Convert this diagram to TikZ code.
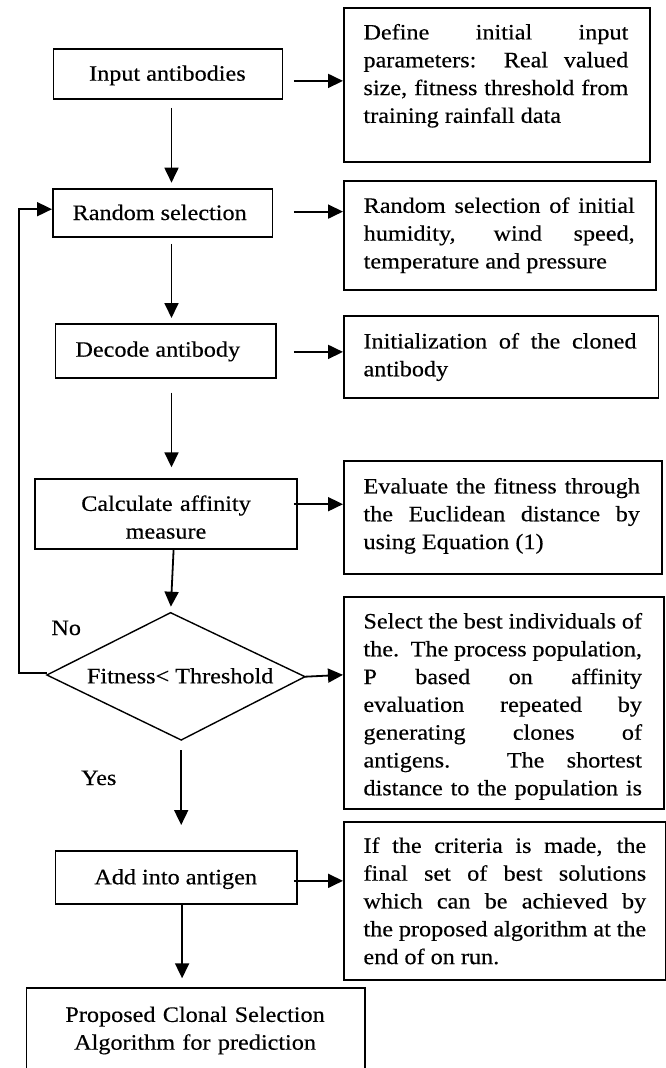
\documentclass[tikz,border=0pt]{standalone}
\usepackage{fontspec}
\setmainfont[FakeStretch=1.1,FakeBold=0.35]{Liberation Serif}
\usetikzlibrary{arrows.meta}
\tikzset{
  box/.style={draw, line width=1.8pt, inner sep=0pt, anchor=north west},
  lbl/.style={inner sep=0pt, anchor=base},
  para/.style={inner sep=0pt, anchor=north west, align=justify},
  ctr/.style={inner sep=0pt, anchor=north, align=center},
  arr/.style={line width=1.8pt, -{Triangle[length=15pt,width=14pt]}},
  boxline/.style={line width=1.8pt},
}
\begin{document}
\begin{tikzpicture}[x=1pt,y=-1pt,font=\fontsize{22}{27.8}\selectfont]
\useasboundingbox (0,0) rectangle (666,1068);

% left column boxes
\node[box, minimum width=229pt, minimum height=50pt] (in) at (52.5,48.3) {};
\node[lbl] (intx) at (167.4,80.7) {Input antibodies};
\node[box, minimum width=219.6pt, minimum height=48pt] (rs) at (52,187.7) {};
\node[lbl] (rstx) at (159.7,220) {Random selection};
\node[box, minimum width=220.4pt, minimum height=53.4pt] (dec) at (54.6,323.3) {};
\node[lbl] (dectx) at (157.8,356.7) {Decode antibody};
\node[box, minimum width=262.4pt, minimum height=70pt] (calc) at (34,477.7) {};
\node[ctr, text width=250pt] (calctx) at (166,491.2) {\strut Calculate affinity\\measure};

% decision
\coordinate (dtop) at (170.6,612.7);
\coordinate (dleft) at (46.9,675);
\coordinate (dright) at (305,676.7);
\coordinate (dbot) at (181.2,740);
\draw[line width=1.4pt] (dtop) -- (dright) -- (dbot) -- (dleft) -- cycle;
\node[lbl] (dtx) at (180.2,683.3) {Fitness< Threshold};
\node[inner sep=0pt, anchor=base west] (no) at (51.2,635) {No};
\node[inner sep=0pt, anchor=base west] (yes) at (81,785) {Yes};

\node[box, minimum width=241.8pt, minimum height=53.3pt] (add) at (54.6,850) {};
\node[lbl] (addtx) at (175.7,884.3) {Add into antigen};

\node[inner sep=0pt, anchor=north west, minimum width=338.2pt, minimum height=79.7pt] (fin) at (26.4,988.3) {};
\draw[boxline] (fin.south west) -- (fin.north west) -- (fin.north east) -- (fin.south east);
\node[ctr, text width=330pt] (fintx) at (195.1,1002.2) {\strut Proposed Clonal Selection\\Algorithm for prediction};

% right column boxes
\node[box, minimum width=306pt, minimum height=154pt] (r1) at (343,6.7) {};
\node[para, text width=264.8pt] (r1t) at (363.3,19.8) {\noindent\strut Define initial input\linebreak parameters: Real valued\linebreak size, fitness threshold from\linebreak training rainfall data};
\node[box, minimum width=312pt, minimum height=108.7pt] (r2) at (343,180) {};
\node[para, text width=271pt] (r2t) at (363.5,193.2) {\noindent\strut Random selection of initial\linebreak humidity, wind speed,\linebreak temperature and pressure};
\node[box, minimum width=314.5pt, minimum height=82pt] (r3) at (343,315.3) {};
\node[para, text width=273pt] (r3t) at (363.3,328.8) {\noindent\strut Initialization of the cloned\linebreak antibody};
\node[box, minimum width=318pt, minimum height=113.3pt] (r4) at (343,460) {};
\node[para, text width=276.4pt] (r4t) at (363.3,473.8) {\noindent\strut Evaluate the fitness through\linebreak the Euclidean distance by\linebreak using Equation (1)};
\node[box, minimum width=320pt, minimum height=212.3pt] (r5) at (343,596) {};
\node[para, text width=278.5pt] (r5t) at (363.3,608.8) {\noindent\strut Select the best individuals of\linebreak the.\ \ The process population,\linebreak P based on affinity\linebreak evaluation repeated by\linebreak generating clones of\linebreak antigens. The shortest\linebreak \makebox[\linewidth][s]{distance to the population is}};
\node[box, minimum width=322pt, minimum height=158.6pt] (r6) at (343,820.7) {};
\node[para, text width=282.7pt] (r6t) at (363.3,833.2) {\noindent\strut If the criteria is made, the\linebreak final set of best solutions\linebreak which can be achieved by\linebreak the proposed algorithm at the\linebreak end of on run.};

% horizontal arrows
\draw[arr] ([shift={(10.6pt,-6.7pt)}]in.east) coordinate (a1) -- (a1 -| r1.west);
\draw[arr] ([shift={(20.4pt,1pt)}]rs.east) coordinate (a2) -- (a2 -| r2.west);
\draw[arr] ([shift={(17pt,-1pt)}]dec.east) coordinate (a3) -- (a3 -| r3.west);
\draw[arr] ([shift={(-4.4pt,9.4pt)}]calc.east) coordinate (a4) -- (a4 -| r4.west);
\draw[arr] (dright) -- ([yshift=28.2pt]r5.west);
\draw[arr] ([shift={(-4.4pt,-3.3pt)}]add.east) coordinate (a6) -- (a6 -| r6.west);

% vertical arrows
\draw[arr, shorten >=5pt] ([shift={(3.6pt,-7.7pt)}]in.south) coordinate (v1) -- (v1 |- rs.north);
\draw[arr, shorten >=5.3pt] ([shift={(8.8pt,-6.3pt)}]rs.south) coordinate (v2) -- (v2 |- dec.north);
\draw[arr, shorten >=10.4pt] ([shift={(5.8pt,-14pt)}]dec.south) coordinate (v3) -- (v3 |- calc.north);
\draw[arr, shorten >=6pt] ([xshift=7.5pt]calc.south) -- (dtop);
\draw[arr, shorten <=10pt, shorten >=25pt] (dbot) -- (dbot |- add.north);
\draw[arr, shorten >=10pt] ([xshift=5.7pt]add.south) coordinate (v6) -- (v6 |- fin.north);

% feedback loop
\draw[arr] ([yshift=1.7pt]dleft) -- ++(-27.7,0) |- ([yshift=3.4pt]rs.west);
\end{tikzpicture}
\end{document}
